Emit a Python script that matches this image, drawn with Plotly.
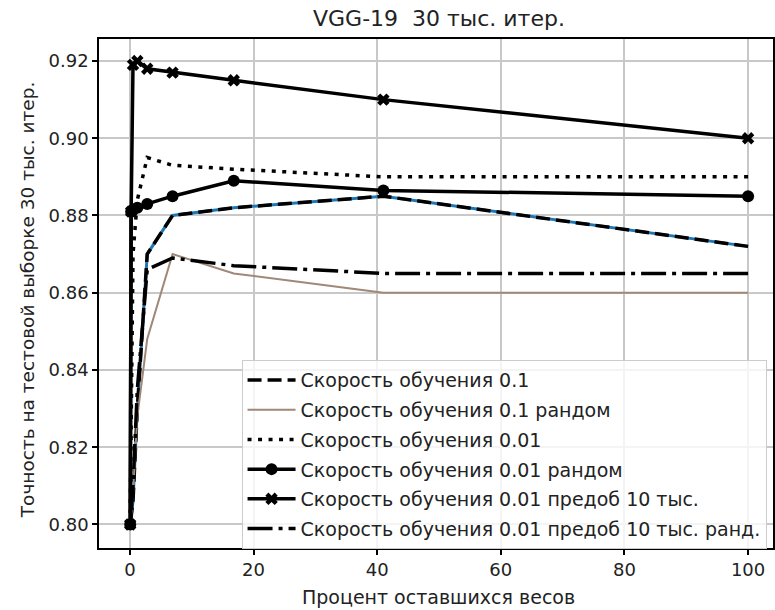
import plotly.graph_objects as go

# Percent of remaining weights (x) shared by the series
x_pct = [100, 41, 16.8, 6.9, 2.8, 1.2, 0.5, 0.2, 0.05]

lr01 = [0.872, 0.885, 0.882, 0.880, 0.870, 0.830, 0.806, 0.801, 0.800]
lr01_rand = [0.860, 0.860, 0.865, 0.870, 0.848, 0.828, 0.808, 0.801, 0.800]
lr001 = [0.890, 0.890, 0.892, 0.893, 0.895, 0.884, 0.870, 0.835, 0.803]
lr001_rand = [0.885, 0.8865, 0.889, 0.885, 0.883, 0.882, 0.8815, 0.881, 0.800]
lr001_pre = [0.900, 0.910, 0.915, 0.917, 0.918, 0.920, 0.919, 0.881, 0.800]
lr001_pre_rand = [0.865, 0.865, 0.867, 0.869, 0.866, 0.835, 0.810, 0.801, 0.800]

names = [
    "Скорость обучения 0.1",
    "Скорость обучения 0.1 рандом",
    "Скорость обучения 0.01",
    "Скорость обучения 0.01 рандом",
    "Скорость обучения 0.01 предоб 10 тыс.",
    "Скорость обучения 0.01 предоб 10 тыс. ранд.",
]

x_ticks = [0, 20, 40, 60, 80, 100]
y_ticks = [0.80, 0.82, 0.84, 0.86, 0.88, 0.90, 0.92]

FONT = "DejaVu Sans"
TXT = "#222"
LW = 3.5

fig = go.Figure()

# blue line beneath the dashed one
fig.add_trace(go.Scatter(x=x_pct, y=lr01, mode="lines", showlegend=False,
                         line=dict(color="#1f77b4", width=3)))

fig.add_trace(go.Scatter(x=x_pct, y=lr01, mode="lines", name=names[0], legendgroup="a",
                         line=dict(color="black", width=LW, dash="14px,6px")))
fig.add_trace(go.Scatter(x=x_pct, y=lr01_rand, mode="lines", name=names[1], legendgroup="b",
                         line=dict(color="#a08878", width=2)))
fig.add_trace(go.Scatter(x=x_pct, y=lr001, mode="lines", name=names[2], legendgroup="c",
                         line=dict(color="black", width=LW, dash="4px,6.5px")))
fig.add_trace(go.Scatter(x=x_pct, y=lr001_rand, mode="lines+markers", name=names[3], legendgroup="d",
                         line=dict(color="black", width=LW),
                         marker=dict(symbol="circle", size=12, color="black")))
fig.add_trace(go.Scatter(x=x_pct, y=lr001_pre, mode="lines+markers", name=names[4], legendgroup="e",
                         line=dict(color="black", width=LW),
                         marker=dict(symbol="x", size=11, color="black")))
fig.add_trace(go.Scatter(x=x_pct, y=lr001_pre_rand, mode="lines", name=names[5], legendgroup="f",
                         line=dict(color="black", width=LW, dash="25px,6px,4px,6px")))

axis_common = dict(
    showgrid=True, gridcolor="#c8c8c8", gridwidth=1.5,
    showline=True, linecolor="black", linewidth=1.5, mirror=True,
    ticks="outside", ticklen=5, tickwidth=1.5, tickcolor="black",
    tickfont=dict(family=FONT, size=18, color=TXT),
    zeroline=False,
)

fig.update_layout(
    width=775, height=610,
    margin=dict(l=99, r=0, t=39, b=62),
    paper_bgcolor="white", plot_bgcolor="white",
    font=dict(family=FONT, color=TXT),
    xaxis=dict(range=[-5, 104.03], tickvals=x_ticks, **axis_common),
    yaxis=dict(range=[0.7939, 0.9257], tickvals=y_ticks, tickformat=".2f", **axis_common),
    legend=dict(
        x=0.2115, y=0.369, xanchor="left", yanchor="top",
        bgcolor="rgba(255,255,255,0.8)", bordercolor="#cccccc", borderwidth=1,
        font=dict(family=FONT, size=19, color=TXT),
        tracegroupgap=2, itemwidth=48,
    ),
    showlegend=True,
)


def px_to_paper_x(px):
    return (px - 99) / 676.0


def px_to_paper_y(py):
    return (548 - py) / 509.0


fig.add_annotation(text="VGG-19  30 тыс. итер.", x=px_to_paper_x(440), y=px_to_paper_y(18),
                   xref="paper", yref="paper", showarrow=False, xanchor="center", yanchor="middle",
                   font=dict(family=FONT, size=22, color=TXT))
fig.add_annotation(text="Процент оставшихся весов", x=px_to_paper_x(440), y=px_to_paper_y(597),
                   xref="paper", yref="paper", showarrow=False, xanchor="center", yanchor="middle",
                   font=dict(family=FONT, size=19, color=TXT))
fig.add_annotation(text="Точность на тестовой выборке 30 тыс. итер.", x=px_to_paper_x(27),
                   y=px_to_paper_y(300), xref="paper", yref="paper", showarrow=False,
                   xanchor="center", yanchor="middle",
                   textangle=-90, font=dict(family=FONT, size=18.5, color=TXT))

fig.write_html("out.html")
